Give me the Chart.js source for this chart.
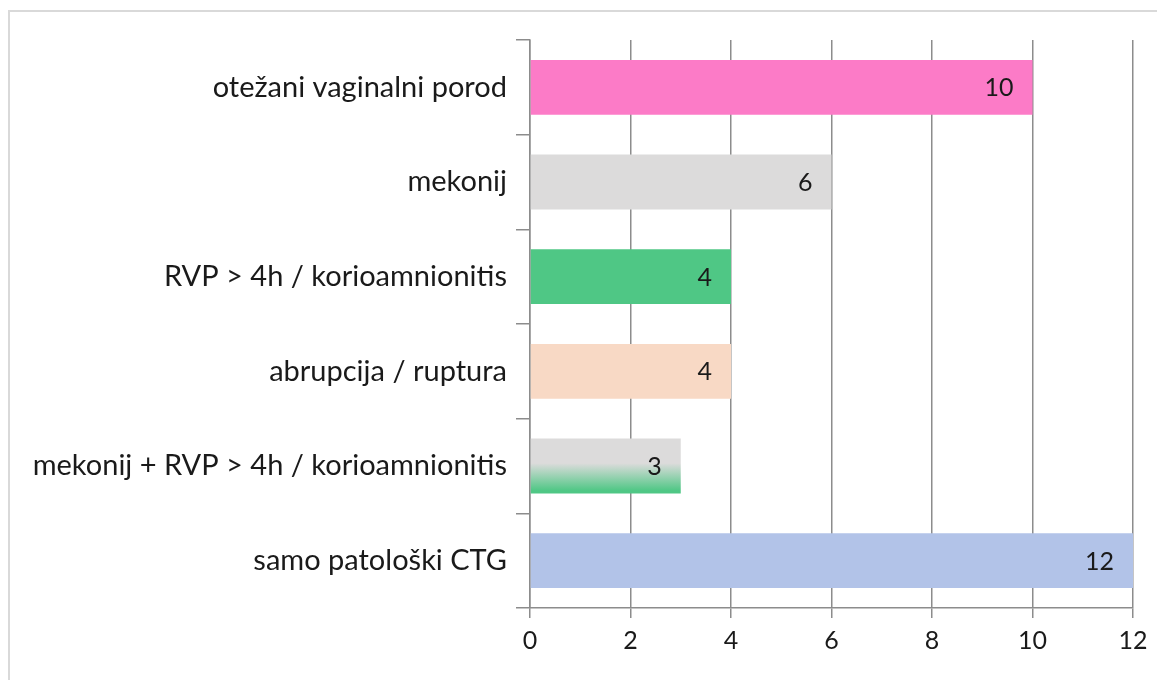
<!DOCTYPE html>
<html>
<head>
<meta charset="utf-8">
<script src="https://cdn.jsdelivr.net/npm/chart.js@4/dist/chart.umd.min.js"></script>
<style>
  html, body { margin:0; padding:0; background:#fff; overflow:hidden; }
  #wrap { position:relative; width:1157px; height:680px; }
  #frame { position:absolute; left:8px; top:10px; width:1170px; height:700px; border:2px solid #d9d9d9; box-sizing:border-box; }
  #c { position:absolute; left:0; top:0; }
</style>
</head>
<body>
<div id="wrap">
  <div id="frame"></div>
  <canvas id="c" width="1157" height="680"></canvas>
</div>
<script>
const categories = [
    'otežani vaginalni porod',
    'mekonij',
    'RVP > 4h / korioamnionitis',
    'abrupcija / ruptura',
    'mekonij + RVP > 4h / korioamnionitis',
    'samo patološki CTG'
];
const values = [10, 6, 4, 4, 3, 12];
const xTicks = [0, 2, 4, 6, 8, 10, 12];

const GRAY  = '#dcdbdb';
const GREEN = '#4fc785';
const barColors = ['#fc7bc7', GRAY, GREEN, '#f8d9c5', 'gradient', '#b2c3e8'];

const FONT = 'Lato, sans-serif';

// gray -> green gradient for the combined category
function barFill(ctx) {
    const c = barColors[ctx.dataIndex];
    if (c !== 'gradient') return c;
    const chart = ctx.chart;
    const y = chart.scales.y;
    if (!chart.chartArea || !y) return GRAY;
    const center = y.getPixelForValue(ctx.dataIndex);
    const half = (chart.chartArea.bottom - chart.chartArea.top) / categories.length * 0.58 / 2;
    const g = chart.ctx.createLinearGradient(0, center - half, 0, center + half);
    g.addColorStop(0, GRAY);
    g.addColorStop(0.45, GRAY);
    g.addColorStop(0.95, GREEN);
    g.addColorStop(1, GREEN);
    return g;
}

const valueLabels = {
    id: 'valueLabels',
    afterDraw(chart) {
        const ctx = chart.ctx;
        const meta = chart.getDatasetMeta(0);
        ctx.save();
        ctx.font = '25px ' + FONT;
        ctx.fillStyle = '#1a1a1a';
        ctx.textAlign = 'right';
        ctx.textBaseline = 'middle';
        meta.data.forEach((bar, i) => {
            ctx.fillText(String(values[i]), bar.x - 19, bar.y + 1);
        });
        ctx.restore();
    }
};

new Chart(document.getElementById('c'), {
    type: 'bar',
    data: {
        labels: categories,
        datasets: [{
            data: values,
            backgroundColor: barFill,
            borderWidth: 0,
            barPercentage: 0.58,
            categoryPercentage: 1
        }]
    },
    options: {
        indexAxis: 'y',
        responsive: false,
        animation: false,
        layout: { padding: { top: 40, right: 24, left: 0, bottom: 0 } },
        plugins: { legend: { display: false }, tooltip: { enabled: false } },
        scales: {
            x: {
                min: 0, max: 12,
                z: 1,
                afterFit: s => { s.height = 72; },
                afterBuildTicks: s => { s.ticks = xTicks.map(v => ({ value: v })); },
                grid: { color: '#8c8c8c', lineWidth: 1.5, tickLength: 10 },
                border: { color: '#8c8c8c', width: 1.5 },
                ticks: { font: { size: 25, family: FONT }, color: '#1a1a1a', padding: 8 }
            },
            y: {
                offset: true,
                afterFit: s => { s.width = 530; },
                grid: { drawOnChartArea: false, offset: true, color: '#8c8c8c', lineWidth: 1.5, tickLength: 14 },
                border: { color: '#8c8c8c', width: 1.5 },
                ticks: { font: { size: 29, family: FONT }, color: '#1a1a1a', padding: 9 }
            }
        }
    },
    plugins: [valueLabels]
});
</script>
</body>
</html>
